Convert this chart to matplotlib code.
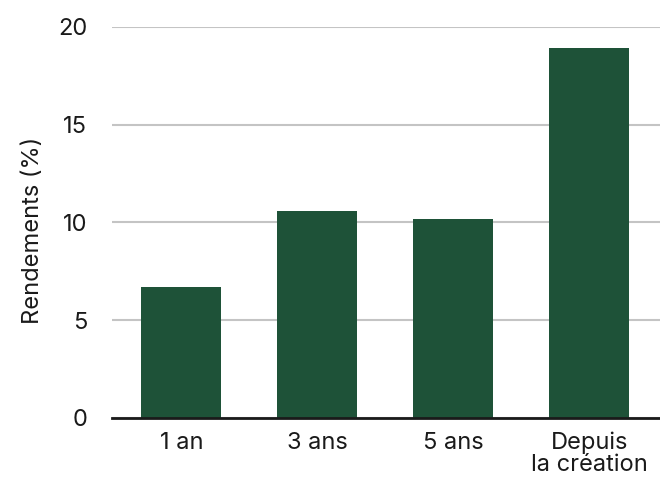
import matplotlib
matplotlib.use("Agg")
import matplotlib.pyplot as plt

# valeurs
categories = ["1 an", "3 ans", "5 ans", "Depuis\nla création"]
rendements = [6.7, 10.6, 10.2, 18.95]
yticks = [0, 5, 10, 15, 20]

plt.rcParams['font.family'] = ['Inter', 'DejaVu Sans']

fig = plt.figure(figsize=(6.6, 4.87), dpi=100)
ax = fig.add_axes([0.1697, 0.1417, 0.8303, 0.8029])

ax.bar(range(len(categories)), rendements, width=0.59, color="#1e5238", zorder=3)

ax.set_ylim(0, 20)
ax.set_xlim(-0.51, 3.52)
ax.set_yticks(yticks)
ax.set_yticklabels([str(v) for v in yticks])
ax.set_xticks(range(len(categories)))
ax.set_xticklabels(categories, linespacing=1.0)

ax.yaxis.grid(True, color="#c4c4c4", linewidth=1.5, zorder=0)
ax.set_axisbelow(True)
for side in ("top", "right", "left"):
    ax.spines[side].set_visible(False)
ax.spines["bottom"].set_color("#1a1a1a")
ax.spines["bottom"].set_linewidth(2)
ax.spines["bottom"].set_zorder(4)

ax.tick_params(axis="both", length=0, labelsize=17, colors="#1a1a1a")
ax.tick_params(axis="x", pad=10)
ax.tick_params(axis="y", pad=18)
ax.set_ylabel("Rendements (%)", fontsize=17, color="#1a1a1a", labelpad=10)
ax.yaxis.label.set_y(0.48)

fig.savefig("out.png", dpi=100)
